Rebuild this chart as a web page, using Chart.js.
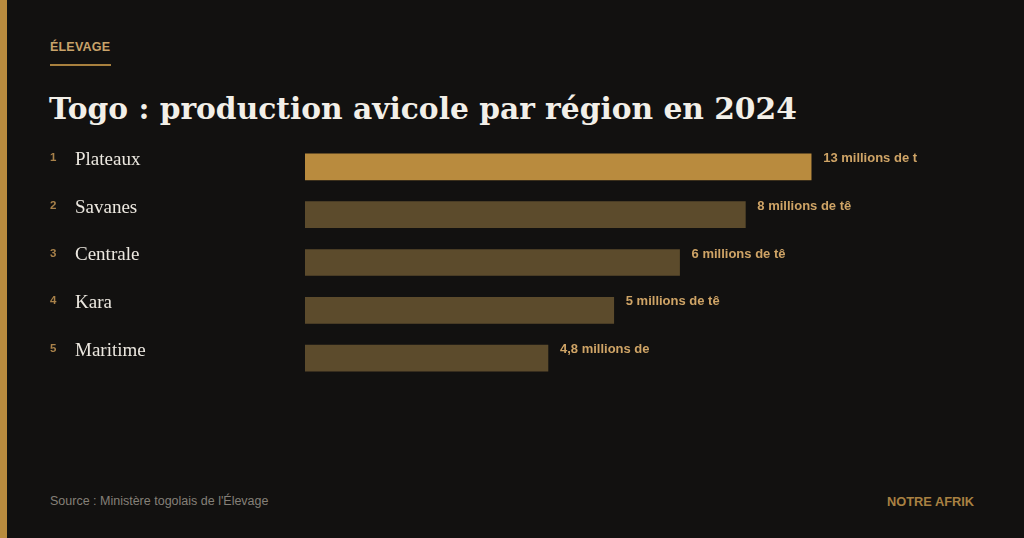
<!DOCTYPE html>
<html lang="fr">
<head>
<meta charset="utf-8">
<script src="https://cdn.jsdelivr.net/npm/chart.js@4.4.1/dist/chart.umd.min.js"></script>
<style>
  html, body { margin: 0; padding: 0; }
  body {
    width: 1024px; height: 538px; overflow: hidden; position: relative;
    background: #121110;
    font-family: "Liberation Sans", Arial, sans-serif;
  }
  .stripe { position: absolute; left: 0; top: 0; width: 7px; height: 538px; background: #b98b3e; }
  .kicker { position: absolute; left: 50px; top: 40px; font-size: 12.5px; font-weight: bold; color: #c9a36a; letter-spacing: 0.2px; }
  .rule { position: absolute; left: 50px; top: 64px; width: 61px; height: 2px; background: #a8803e; }
  h1 {
    position: absolute; left: 49px; top: 91px; margin: 0;
    font-family: "DejaVu Serif", "Liberation Serif", serif; font-weight: bold;
    font-size: 29.7px; color: #f2efe8; white-space: nowrap;
  }
  .chartbox { position: absolute; left: 0; top: 140px; width: 1024px; height: 245px; }
  .source { position: absolute; left: 50px; top: 494px; font-size: 12.5px; color: #858078; }
  .brand { position: absolute; right: 50px; top: 494px; font-size: 12.8px; font-weight: bold; color: #a98142; }
</style>
</head>
<body>
<div class="stripe"></div>
<div class="kicker">ÉLEVAGE</div>
<div class="rule"></div>
<h1>Togo : production avicole par région en 2024</h1>
<div class="chartbox"><canvas id="bars"></canvas></div>
<div class="source">Source : Ministère togolais de l'Élevage</div>
<div class="brand">NOTRE AFRIK</div>
<script>
// régions classées
const regions = ['Plateaux', 'Savanes', 'Centrale', 'Kara', 'Maritime'];
const rangs = ['1', '2', '3', '4', '5'];
// longueur des barres (Plateaux = 100)
const barScores = [100, 87, 74, 61, 48];
// textes des étiquettes (coupés comme dans l'original)
const valueLabels = ['13 millions de t', '8 millions de tê', '6 millions de tê', '5 millions de tê', '4,8 millions de'];
const xMax = 130;

const GOLD = '#b98b3e';
const DIM = '#5c4b2c';

const labelPlugin = {
    id: 'labels',
    afterDatasetsDraw(chart) {
        const ctx = chart.ctx;
        const meta = chart.getDatasetMeta(0);
        const yScale = chart.scales.y;
        ctx.save();
        ctx.textBaseline = 'middle';
        regions.forEach((name, i) => {
            const yc = yScale.getPixelForValue(i) - 9;
            // rang
            ctx.font = 'bold 11.5px "Liberation Sans", Arial, sans-serif';
            ctx.fillStyle = '#a9824a';
            ctx.textAlign = 'left';
            ctx.fillText(rangs[i], 50, yc);
            // nom
            ctx.font = '19px "Liberation Serif", serif';
            ctx.fillStyle = '#ece8e0';
            ctx.fillText(name, 75, yc + 2);
            // valeur
            const bar = meta.data[i];
            ctx.font = 'bold 13px "Liberation Sans", Arial, sans-serif';
            ctx.fillStyle = '#cfa466';
            ctx.fillText(valueLabels[i], bar.x + 12, yc + 0.5);
        });
        ctx.restore();
    }
};

new Chart(document.getElementById('bars').getContext('2d'), {
    type: 'bar',
    data: {
        labels: regions,
        datasets: [{
            data: barScores,
            backgroundColor: barScores.map((v, i) => i === 0 ? GOLD : DIM),
            barThickness: 26,
            borderWidth: 0,
            borderSkipped: false
        }]
    },
    options: {
        indexAxis: 'y',
        responsive: true,
        maintainAspectRatio: false,
        animation: false,
        layout: { padding: { left: 305, right: 61, top: 3, bottom: 3 } },
        scales: {
            x: { display: false, min: 0, max: xMax },
            y: { display: false }
        },
        plugins: { legend: { display: false }, tooltip: { enabled: false } }
    },
    plugins: [labelPlugin]
});
</script>
</body>
</html>
